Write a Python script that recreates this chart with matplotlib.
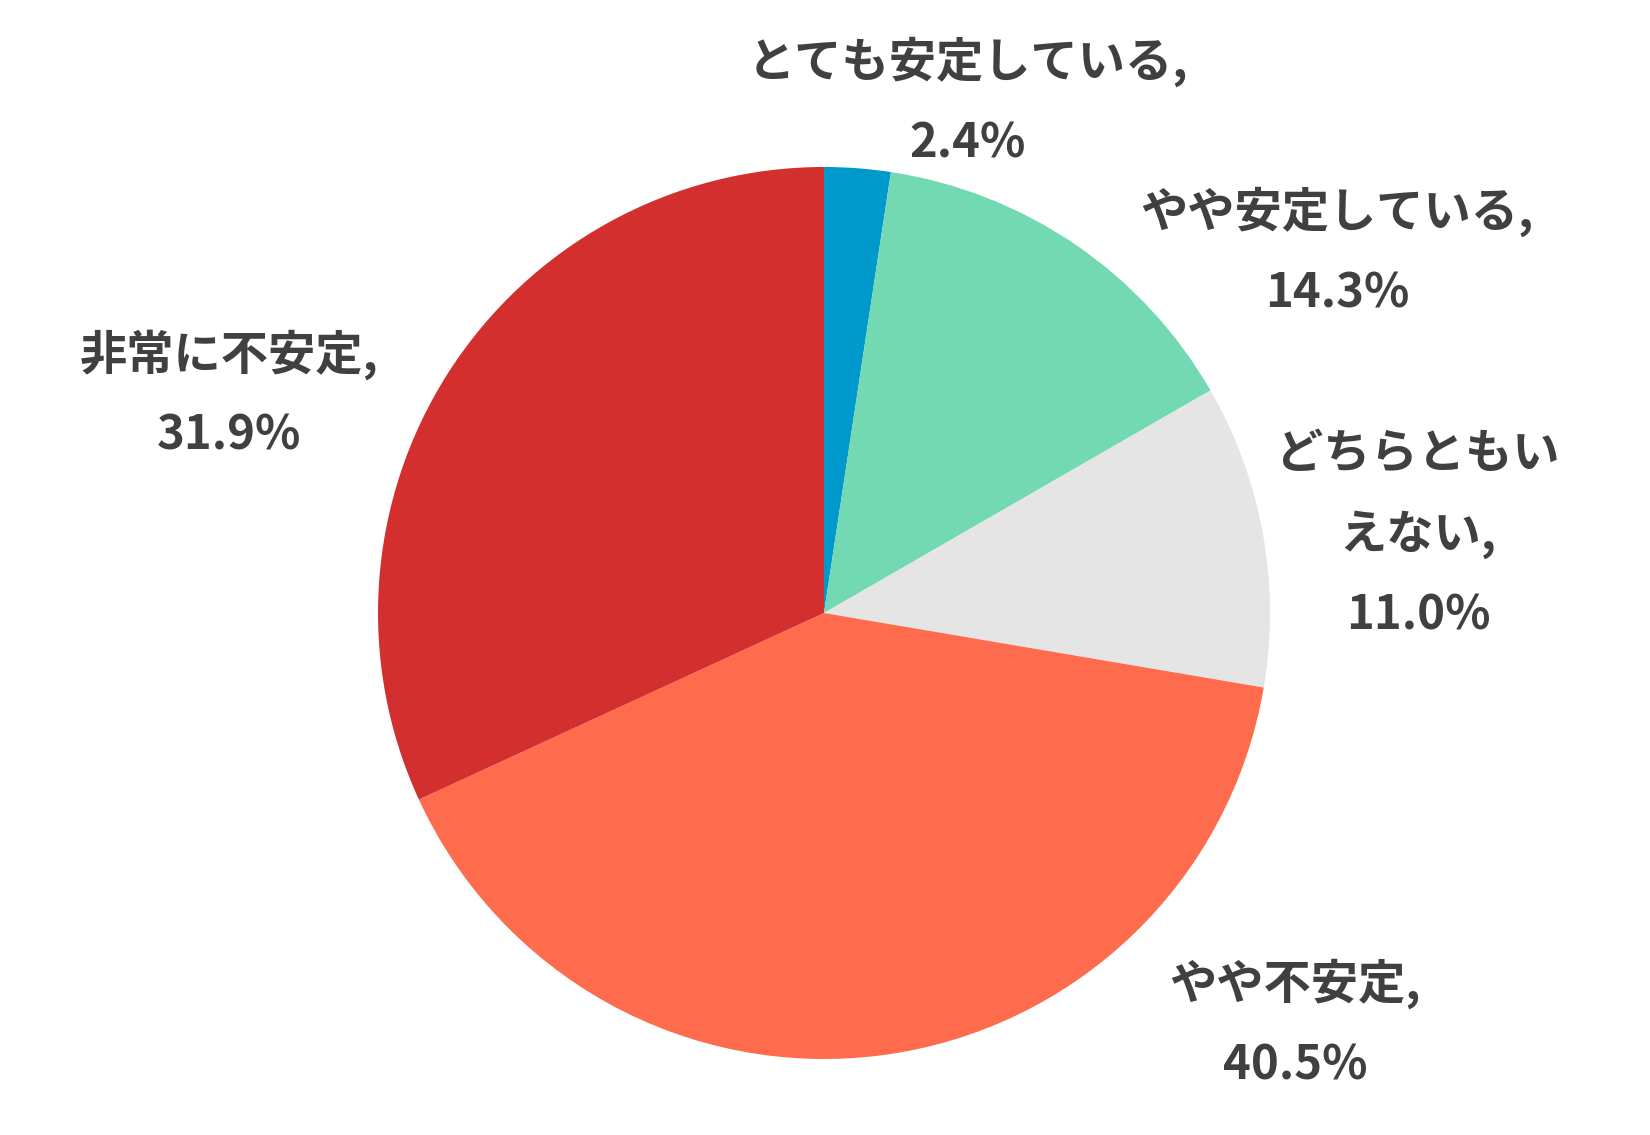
import matplotlib
matplotlib.use("Agg")
import matplotlib.pyplot as plt

plt.rcParams['font.family'] = ['Noto Sans CJK JP', 'DejaVu Sans']

# data (clockwise from 12 o'clock)
categories = ["とても安定している", "やや安定している", "どちらともい\nえない", "やや不安定", "非常に不安定"]
shares = [2.4, 14.3, 11.0, 40.5, 31.9]
colors = ["#0099CC", "#72D9B3", "#E5E5E5", "#FF6B4D", "#D32F2F"]

# label anchor (centre of first line), pixels from top-left
label_pos = [(968, 62), (1337, 212), (1418, 454), (1295, 984), (229, 355)]

W, H = 1650, 1135
fig = plt.figure(figsize=(W / 100, H / 100), dpi=100)

# pie: centre (824, 613), radius 446 px
cx, cy, r = 824, 613, 446
ax = fig.add_axes([(cx - r) / W, (H - cy - r) / H, 2 * r / W, 2 * r / H])
ax.pie(shares, colors=colors, startangle=90, counterclock=False,
       wedgeprops=dict(linewidth=0))
ax.set_xlim(-1, 1)
ax.set_ylim(-1, 1)
ax.set_aspect('equal')
ax.axis('off')

line_gap = 81
for name, val, (x, y) in zip(categories, shares, label_pos):
    lines = (name + ",").split("\n") + ["{:.1f}%".format(val)]
    for i, line in enumerate(lines):
        fig.text(x / W, 1 - (y + i * line_gap) / H, line,
                 ha='center', va='center', fontsize=34, fontweight='bold',
                 color='#404040')

fig.savefig("out.png", dpi=100)
